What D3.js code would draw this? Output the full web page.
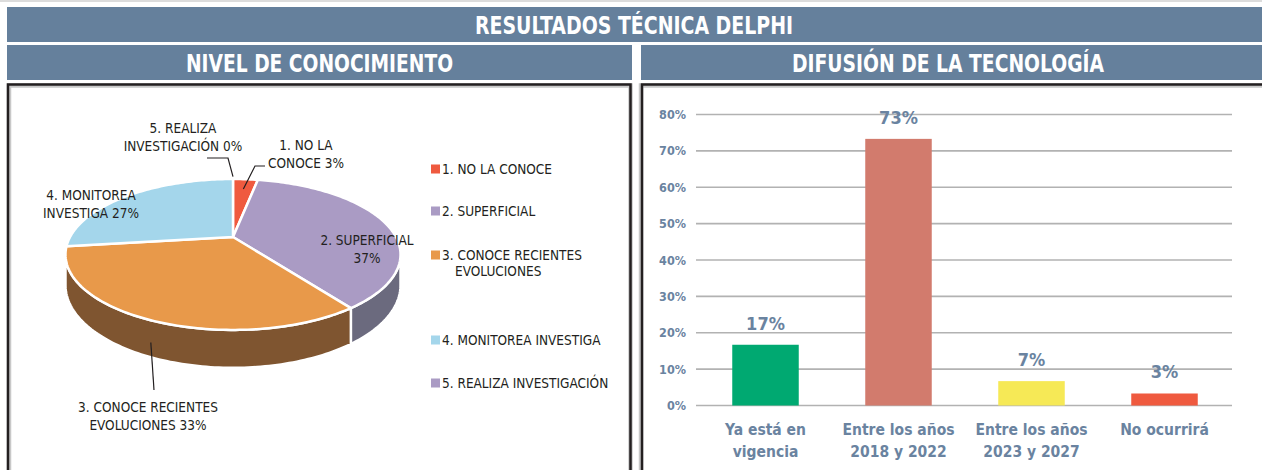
<!DOCTYPE html>
<html>
<head>
<meta charset="utf-8">
<script src="https://cdn.jsdelivr.net/npm/d3@7"></script>
<style>
body { margin: 0; background: #fff; }
text { font-family: "Liberation Sans Narrow", "DejaVu Sans Condensed", sans-serif; }
</style>
</head>
<body>
<svg id="chart"></svg>
<script>
// pie data
const pieLabels = ["1. NO LA CONOCE", "2. SUPERFICIAL", "3. CONOCE RECIENTES EVOLUCIONES", "4. MONITOREA INVESTIGA", "5. REALIZA INVESTIGACIÓN"];
const pieValues = [3, 37, 33, 27, 0];
const pieColors = ["#ef5a3f", "#aa9bc4", "#e8994a", "#a4d6eb", "#aa9bc4"];
const pieSideColors = ["#a33c2a", "#6b6a7e", "#7f5530", "#6f95a3", "#6b6a7e"];

// bar data
const barCats = [["Ya está en", "vigencia"], ["Entre los años", "2018 y 2022"], ["Entre los años", "2023 y 2027"], ["No ocurrirá"]];
const barValues = [16.7, 73.3, 6.7, 3.3];
const barTexts = ["17%", "73%", "7%", "3%"];
const barColors = ["#00a971", "#d27b6d", "#f6e956", "#ef5a3f"];
const yTicks = [0, 10, 20, 30, 40, 50, 60, 70, 80];

const W = 1262, H = 470;
const head = "#65809c";
const ink = "#231f20";
const slate = "#6a83a0";

var svg = d3.select("#chart").attr("width", W).attr("height", H);

// ---- headers and frames
svg.append("rect").attr("x", 0).attr("y", 0).attr("width", W).attr("height", 2).attr("fill", "#dcdcdc");
svg.append("rect").attr("x", 7).attr("y", 7).attr("width", W - 7).attr("height", 35).attr("fill", head);
svg.append("rect").attr("x", 7).attr("y", 45).attr("width", 625).attr("height", 35).attr("fill", head);
svg.append("rect").attr("x", 641).attr("y", 45).attr("width", W - 641).attr("height", 35).attr("fill", head);

function headText(t, cx, cy, len) {
	svg.append("text")
		.attr("x", cx).attr("y", cy + 9)
		.attr("text-anchor", "middle")
		.attr("fill", "#fff")
		.attr("font-weight", "bold")
		.attr("font-size", 25)
		.attr("textLength", len)
		.attr("lengthAdjust", "spacingAndGlyphs")
		.text(t);
}
headText("RESULTADOS TÉCNICA DELPHI", 634, 25, 318);
headText("NIVEL DE CONOCIMIENTO", 319.5, 63, 267);
headText("DIFUSIÓN DE LA TECNOLOGÍA", 948, 63, 312);

// panel borders
svg.append("path").attr("d", "M9,480V85.5H630.5V480").attr("fill", "none").attr("stroke", "#c8c8c8").attr("stroke-width", 4.5);
svg.append("path").attr("d", "M8,480V84.5H630.5V480").attr("fill", "none").attr("stroke", ink).attr("stroke-width", 2.5);
svg.append("path").attr("d", "M641,480V85.5H1270").attr("fill", "none").attr("stroke", "#c8c8c8").attr("stroke-width", 4.5);
svg.append("path").attr("d", "M642,480V84.5H1270").attr("fill", "none").attr("stroke", ink).attr("stroke-width", 2.5);

// ---- 3D pie (perspective projection of a tilted disc)
const cam = {cx: 233, cy: 237, d: 4.32, sx: 704, sy: 308.5, depth: 126};
function proj(a, r, h) {
	var u = r * Math.sin(a), v = -r * Math.cos(a);
	var k = 1 / (cam.d - v);
	return [cam.cx + cam.sx * u * k, cam.cy + cam.sy * v * k + h * cam.depth * k];
}
function arcPts(a0, a1, r, h) {
	var n = Math.max(2, Math.ceil(Math.abs(a1 - a0) / 0.02));
	return d3.range(n + 1).map(i => proj(a0 + (a1 - a0) * i / n, r, h));
}
var line = d3.line();

var arcs = d3.pie().sort(null).value(d => d)(pieValues);

// visible part of the side wall
var aVis = Math.acos(-1 / cam.d);
var g3 = svg.append("g");
arcs.forEach(function(s, i) {
	var a0 = Math.max(s.startAngle, aVis), a1 = Math.min(s.endAngle, 2 * Math.PI - aVis);
	if (a1 <= a0) return;
	var pts = arcPts(a0, a1, 1, 0).concat(arcPts(a1, a0, 1, 1));
	g3.append("path").attr("d", line(pts) + "Z")
		.attr("fill", pieSideColors[i])
		.attr("stroke", "#fff").attr("stroke-width", 2.5).attr("stroke-linejoin", "round");
});
arcs.forEach(function(s, i) {
	if (s.endAngle - s.startAngle <= 0) return;
	var pts = [proj(0, 0, 0)].concat(arcPts(s.startAngle, s.endAngle, 1, 0));
	g3.append("path").attr("d", line(pts) + "Z")
		.attr("fill", pieColors[i])
		.attr("stroke", "#fff").attr("stroke-width", 2.5).attr("stroke-linejoin", "round");
});

// pie data labels (layout only: where each label sits, how many words on line 1)
const pieLabelLayout = [
	{x: 306, y: 145, words: 3, lead: [[265, 166], [255, 166]], r: 0.8, h: 0},
	{x: 367, y: 240, words: 2},
	{x: 148, y: 407, words: 3, lead: [[154, 390]], r: 1, h: 0.6},
	{x: 91, y: 195, words: 2},
	{x: 183, y: 128, words: 2, lead: [[207, 158], [228, 158]], r: 1.05, h: 0}
];
var gl = svg.append("g");
arcs.forEach(function(s, i) {
	var L = pieLabelLayout[i];
	var words = (pieLabels[i] + " " + pieValues[i] + "%").split(" ");
	var lines = [words.slice(0, L.words).join(" "), words.slice(L.words).join(" ")];
	var t = gl.append("text").attr("text-anchor", "middle").attr("fill", ink).attr("font-size", 13.5);
	lines.forEach(function(l, j) {
		t.append("tspan").attr("x", L.x).attr("y", L.y + 5 + j * 18).text(l);
	});
	if (L.lead) {
		var mid = (s.startAngle + s.endAngle) / 2;
		var pts = L.lead.concat([proj(mid, L.r, L.h)]);
		gl.append("path").attr("d", line(pts)).attr("fill", "none").attr("stroke", ink).attr("stroke-width", 1.2);
	}
});

// legend
const legendY = [169, 211, 255, 340, 383];
var lg = svg.append("g");
pieLabels.forEach(function(l, i) {
	lg.append("rect").attr("x", 431).attr("y", legendY[i] - 4.5).attr("width", 9).attr("height", 9).attr("fill", pieColors[i]);
	var t = lg.append("text").attr("fill", ink).attr("font-size", 13.5);
	var parts = l === "3. CONOCE RECIENTES EVOLUCIONES" ? ["3. CONOCE RECIENTES", "EVOLUCIONES"] : [l];
	parts.forEach(function(p, j) {
		t.append("tspan").attr("x", j ? 455 : 442).attr("y", legendY[i] + 5 + j * 16).text(p);
	});
});

// ---- bar chart
var x = d3.scaleBand()
	.domain(barCats.map(d => d.join(" ")))
	.range([699, 1231])
	.paddingInner(0.5)
	.paddingOuter(0.25);
var y = d3.scaleLinear().domain([0, 80]).range([405.5, 114.5]);

var gb = svg.append("g");
gb.selectAll("line.grid")
	.data(yTicks)
	.join("line")
	.attr("class", "grid")
	.attr("x1", 696).attr("x2", 1232)
	.attr("y1", d => y(d)).attr("y2", d => y(d))
	.attr("stroke", "#b2b2b2").attr("stroke-width", 1.6);

var yAxis = gb.append("g")
	.attr("transform", "translate(696,0)")
	.call(d3.axisLeft(y).tickValues(yTicks).tickFormat(d => d + "%").tickSize(0).tickPadding(10));
yAxis.select(".domain").remove();
yAxis.selectAll("text")
	.attr("fill", slate)
	.attr("font-family", "Roboto, sans-serif")
	.attr("font-weight", "bold")
	.attr("font-size", 12.5);

gb.selectAll("rect.bar")
	.data(barValues)
	.join("rect")
	.attr("class", "bar")
	.attr("x", (d, i) => x(barCats[i].join(" ")))
	.attr("y", d => y(d))
	.attr("width", x.bandwidth())
	.attr("height", d => y(0) - y(d))
	.attr("fill", (d, i) => barColors[i]);

gb.selectAll("text.val")
	.data(barValues)
	.join("text")
	.attr("class", "val")
	.attr("x", (d, i) => x(barCats[i].join(" ")) + x.bandwidth() / 2)
	.attr("y", d => y(d) - 15)
	.attr("text-anchor", "middle")
	.attr("fill", slate)
	.attr("font-family", "Roboto, sans-serif")
	.attr("font-weight", "bold")
	.attr("font-size", 18)
	.text((d, i) => barTexts[i]);

barCats.forEach(function(c, i) {
	var t = gb.append("text")
		.attr("text-anchor", "middle")
		.attr("fill", slate)
		.attr("font-weight", "bold")
		.attr("font-size", 15.5);
	c.forEach(function(l, j) {
		t.append("tspan")
			.attr("x", x(c.join(" ")) + x.bandwidth() / 2)
			.attr("y", 435 + j * 22)
			.text(l);
	});
});
</script>
</body>
</html>
